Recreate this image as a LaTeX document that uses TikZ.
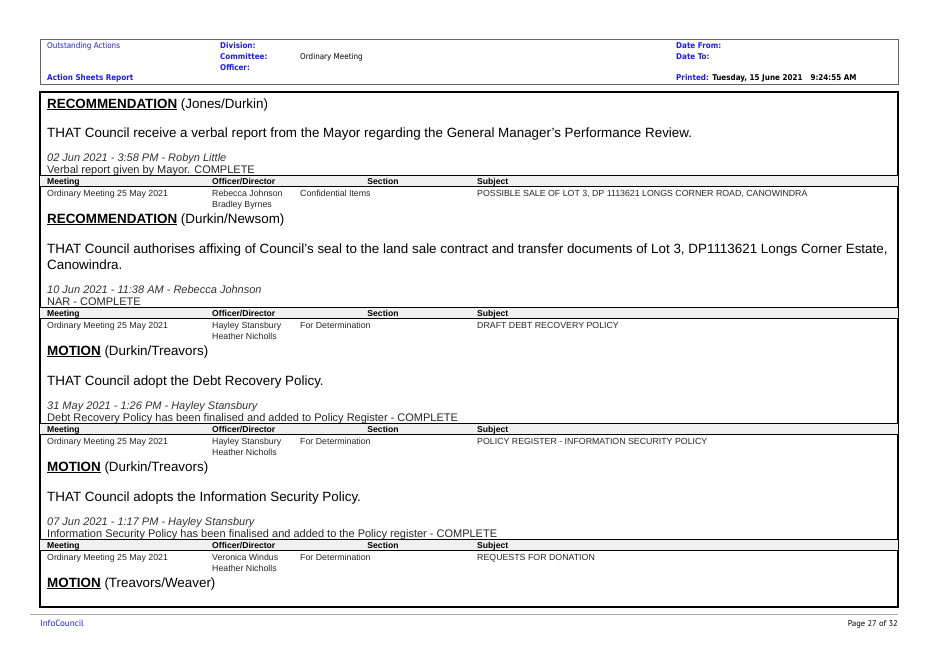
\documentclass[tikz,border=0pt]{standalone}
\usepackage{fontspec}
\setmainfont{Liberation Sans}
\newfontfamily\tah{DejaVu Sans Condensed}
\newfontfamily\foot{PT Sans}
\definecolor{hblue}{RGB}{30,30,230}
\begin{document}
\begin{tikzpicture}[x=1pt,y=-1pt,
  t/.style={anchor=base west,inner sep=0pt},
  big/.style={t,font=\fontsize{13.4}{16}\selectfont},
  it/.style={t,font=\fontsize{11}{13}\selectfont\itshape,text=black!80},
  nt/.style={t,font=\fontsize{11}{13}\selectfont,text=black!85},
  sm/.style={t,font=\fontsize{8.8}{10}\selectfont,text=black!85},
  smb/.style={t,font=\fontsize{8.6}{10}\selectfont\bfseries},
  hd/.style={t,font=\tah\fontsize{8}{10}\selectfont\bfseries,text=hblue},
  hn/.style={t,font=\tah\fontsize{8}{10}\selectfont,text=hblue}]
\useasboundingbox (0,0) rectangle (939,664);
% header box
\draw[gray!80!black,line width=0.8pt] (40,39) rectangle (898,84);
\node[hn] (oa) at (47,48) {Outstanding Actions};
\node[hd] (asr) at (47,80) {Action Sheets Report};
\node[hd] (div) at (220,48) {Division:};
\node[hd] (com) at (220,59) {Committee:};
\node[hd] (off) at (220,70) {Officer:};
\node[t,font=\tah\fontsize{8}{10}\selectfont] (om) at (300,59) {Ordinary Meeting};
\node[hd] (df) at (676,48) {Date From:};
\node[hd] (dt) at (676,59) {Date To:};
\node[hd] (pr) at (676,80) {Printed: \textcolor{black}{Tuesday, 15 June 2021\quad 9:24:55 AM}};
% main box
\draw[black,line width=1.2pt] (40,92) rectangle (898,607);
\newcommand{\thdr}[1]{%
  \fill[black!6] (40,#1) rectangle (898,#1+11);
  \draw[line width=1pt] (40,#1) -- (898,#1);
  \draw[line width=0.8pt] (40,#1+11) -- (898,#1+11);
  \node[smb] at (47,#1+9) {Meeting};
  \node[smb] at (212,#1+9) {Officer/Director};
  \node[smb,anchor=base] at (383,#1+9) {Section};
  \node[smb] at (477,#1+9) {Subject};}
\newcommand{\trow}[6]{%
  \node[sm] at (47,#1+21) {#2};
  \node[sm] at (212,#1+21) {#3};
  \node[sm] at (212,#1+32) {#4};
  \node[sm] at (300,#1+21) {#5};
  \node[sm] at (477,#1+21) {#6};}
% block 1
\node[big] (r1) at (47,108) {\underline{\textbf{RECOMMENDATION}} (Jones/Durkin)};
\node[big] (b1) at (47,137) {THAT Council receive a verbal report from the Mayor regarding the General Manager’s Performance Review.};
\node[it] (d1) at (47,161) {02 Jun 2021 - 3:58 PM - Robyn Little};
\node[nt] (n1) at (47,173) {Verbal report given by Mayor. COMPLETE};
\thdr{175}
\trow{175}{Ordinary Meeting 25 May 2021}{Rebecca Johnson}{Bradley Byrnes}{Confidential Items}{POSSIBLE SALE OF LOT 3, DP 1113621 LONGS CORNER ROAD, CANOWINDRA}
% block 2
\node[big] (r2) at (47,223) {\underline{\textbf{RECOMMENDATION}} (Durkin/Newsom)};
\node[big] (b2) at (47,253) {THAT Council authorises affixing of Council’s seal to the land sale contract and transfer documents of Lot 3, DP1113621 Longs Corner Estate,};
\node[big] (b2b) at (47,269) {Canowindra.};
\node[it] (d2) at (47,293) {10 Jun 2021 - 11:38 AM - Rebecca Johnson};
\node[nt] (n2) at (47,305) {NAR - COMPLETE};
\thdr{307}
\trow{307}{Ordinary Meeting 25 May 2021}{Hayley Stansbury}{Heather Nicholls}{For Determination}{DRAFT DEBT RECOVERY POLICY}
% block 3
\node[big] (r3) at (47,355) {\underline{\textbf{MOTION}} (Durkin/Treavors)};
\node[big] (b3) at (47,385) {THAT Council adopt the Debt Recovery Policy.};
\node[it] (d3) at (47,409) {31 May 2021 - 1:26 PM - Hayley Stansbury};
\node[nt] (n3) at (47,421) {Debt Recovery Policy has been finalised and added to Policy Register - COMPLETE};
\thdr{423}
\trow{423}{Ordinary Meeting 25 May 2021}{Hayley Stansbury}{Heather Nicholls}{For Determination}{POLICY REGISTER - INFORMATION SECURITY POLICY}
% block 4
\node[big] (r4) at (47,471) {\underline{\textbf{MOTION}} (Durkin/Treavors)};
\node[big] (b4) at (47,501) {THAT Council adopts the Information Security Policy.};
\node[it] (d4) at (47,525) {07 Jun 2021 - 1:17 PM - Hayley Stansbury};
\node[nt] (n4) at (47,537) {Information Security Policy has been finalised and added to the Policy register - COMPLETE};
\thdr{539}
\trow{539}{Ordinary Meeting 25 May 2021}{Veronica Windus}{Heather Nicholls}{For Determination}{REQUESTS FOR DONATION}
\node[big] (r5) at (47,587) {\underline{\textbf{MOTION}} (Treavors/Weaver)};
% footer
\draw[gray!70,line width=0.8pt] (30,614) -- (898,614);
\node[t,font=\foot\fontsize{9}{11}\selectfont,text=hblue] (ic) at (40,626) {InfoCouncil};
\node[t,anchor=base east,font=\foot\fontsize{8.5}{11}\selectfont] (pg) at (898,626) {Page 27 of 32};
\end{tikzpicture}
\end{document}
